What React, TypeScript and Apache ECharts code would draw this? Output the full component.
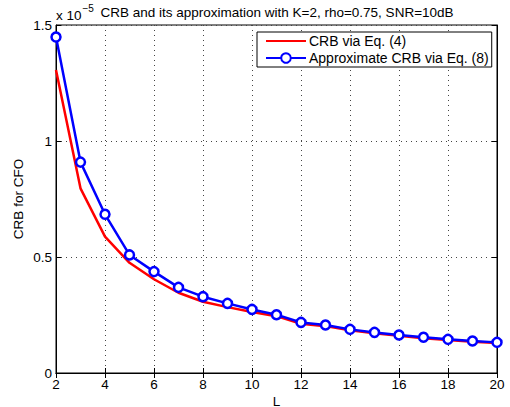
import React, { useEffect, useRef } from "react";
import * as echarts from "echarts";

const L = [2, 3, 4, 5, 6, 7, 8, 9, 10, 11, 12, 13, 14, 15, 16, 17, 18, 19, 20];
// values in units of 1e-5
const crbEq4 = [1.306, 0.796, 0.588, 0.475, 0.404, 0.346, 0.307, 0.284, 0.263, 0.245, 0.212, 0.202, 0.184, 0.171, 0.160, 0.150, 0.142, 0.135, 0.129];
const crbApprox = [1.448, 0.909, 0.684, 0.509, 0.437, 0.369, 0.329, 0.300, 0.274, 0.251, 0.218, 0.207, 0.188, 0.175, 0.164, 0.154, 0.145, 0.138, 0.132];
const xTicks = [2, 4, 6, 8, 10, 12, 14, 16, 18, 20];
const yTicks = [0, 0.5, 1, 1.5];
const seriesNames = ["CRB via Eq. (4)", "Approximate CRB via Eq. (8)"];
const titleText = "CRB and its approximation with K=2, rho=0.75, SNR=10dB";

const FONT = "Liberation Sans, Arial, Helvetica, sans-serif";
const FS = 13.5;

export default function App() {
  const ref = useRef<HTMLDivElement>(null);
  useEffect(() => {
    if (!ref.current) return;
    const chart = echarts.init(ref.current, undefined, { renderer: "svg" });
    const split = { show: true, lineStyle: { color: "#444", type: [1, 4] as any, width: 1 } };
    const tick = { show: true, inside: true, length: 5, lineStyle: { color: "#000" } };
    chart.setOption({
      animation: false,
      backgroundColor: "#fff",
      textStyle: { fontFamily: FONT },
      grid: {
        left: 56,
        right: 13,
        top: 25,
        bottom: 34,
        show: true,
        borderColor: "#000",
        borderWidth: 1,
        containLabel: false,
        outerBoundsMode: "none",
      } as any,
      graphic: [
        {
          type: "text",
          x: 277,
          y: 5,
          style: { text: titleText, font: FS + "px " + FONT, fill: "#000", align: "center", textAlign: "center" },
        },
        {
          type: "text",
          x: 56,
          y: 2,
          style: {
            text: "{a|x 10}{b|−5}",
            rich: {
              a: { font: FS + "px " + FONT, fill: "#000", padding: [6, 0, 0, 0] },
              b: { font: "10px " + FONT, fill: "#000", padding: [0, 0, 7, 1] },
            },
          },
        },
      ],
      legend: {
        left: 257,
        top: 32,
        orient: "vertical",
        backgroundColor: "#fff",
        borderColor: "#000",
        borderWidth: 1,
        padding: [2, 3, 2, 8],
        itemGap: 3,
        itemWidth: 40,
        itemHeight: 12,
        textStyle: { fontSize: 14, fontFamily: FONT, color: "#000", padding: [0, 0, 0, -2] },
        data: [
          { name: seriesNames[0], itemStyle: { opacity: 0 } },
          { name: seriesNames[1] },
        ],
      },
      xAxis: [
        {
          type: "value",
          min: 2,
          max: 20,
          interval: 2,
          name: "L",
          nameLocation: "middle",
          nameGap: 21,
          nameMoveOverlap: false,
          nameTextStyle: { fontSize: FS, color: "#000", fontFamily: FONT },
          axisLine: { show: true, lineStyle: { color: "#000" } },
          axisTick: tick,
          axisLabel: {
            fontSize: FS,
            color: "#000",
            margin: 4,
            fontFamily: FONT,
            formatter: (v: number) => (xTicks.includes(v) ? String(v) : ""),
          },
          splitLine: split,
        },
        {
          type: "value",
          position: "top",
          min: 2,
          max: 20,
          interval: 2,
          axisLine: { show: true, lineStyle: { color: "#000" } },
          axisTick: tick,
          axisLabel: { show: false },
          splitLine: { show: false },
        },
      ],
      yAxis: [
        {
          type: "value",
          min: 0,
          max: 1.5,
          interval: 0.5,
          name: "CRB for CFO",
          nameLocation: "middle",
          nameGap: 31,
          nameMoveOverlap: false,
          nameTextStyle: { fontSize: FS, color: "#000", fontFamily: FONT },
          axisLine: { show: true, lineStyle: { color: "#000" } },
          axisTick: tick,
          axisLabel: {
            fontSize: FS,
            color: "#000",
            margin: 4,
            fontFamily: FONT,
            formatter: (v: number) => (yTicks.includes(v) ? String(v) : ""),
          },
          splitLine: split,
        },
        {
          type: "value",
          position: "right",
          min: 0,
          max: 1.5,
          interval: 0.5,
          axisLine: { show: true, lineStyle: { color: "#000" } },
          axisTick: tick,
          axisLabel: { show: false },
          splitLine: { show: false },
        },
      ],
      series: [
        {
          name: seriesNames[0],
          type: "line",
          data: L.map((x, i) => [x, crbEq4[i]]),
          showSymbol: false,
          symbol: "none",
          lineStyle: { color: "#ff0000", width: 2.5 },
          itemStyle: { color: "#ff0000" },
          z: 2,
        },
        {
          name: seriesNames[1],
          type: "line",
          data: L.map((x, i) => [x, crbApprox[i]]),
          symbol: "circle",
          symbolSize: 9,
          lineStyle: { color: "#0000ff", width: 2.5 },
          itemStyle: { color: "#fff", borderColor: "#0000ff", borderWidth: 2.5 },
          z: 3,
        },
      ],
    });
    return () => chart.dispose();
  }, []);
  return <div ref={ref} style={{ width: 510, height: 407, position: "absolute", left: 0, top: 0 }} />;
}
